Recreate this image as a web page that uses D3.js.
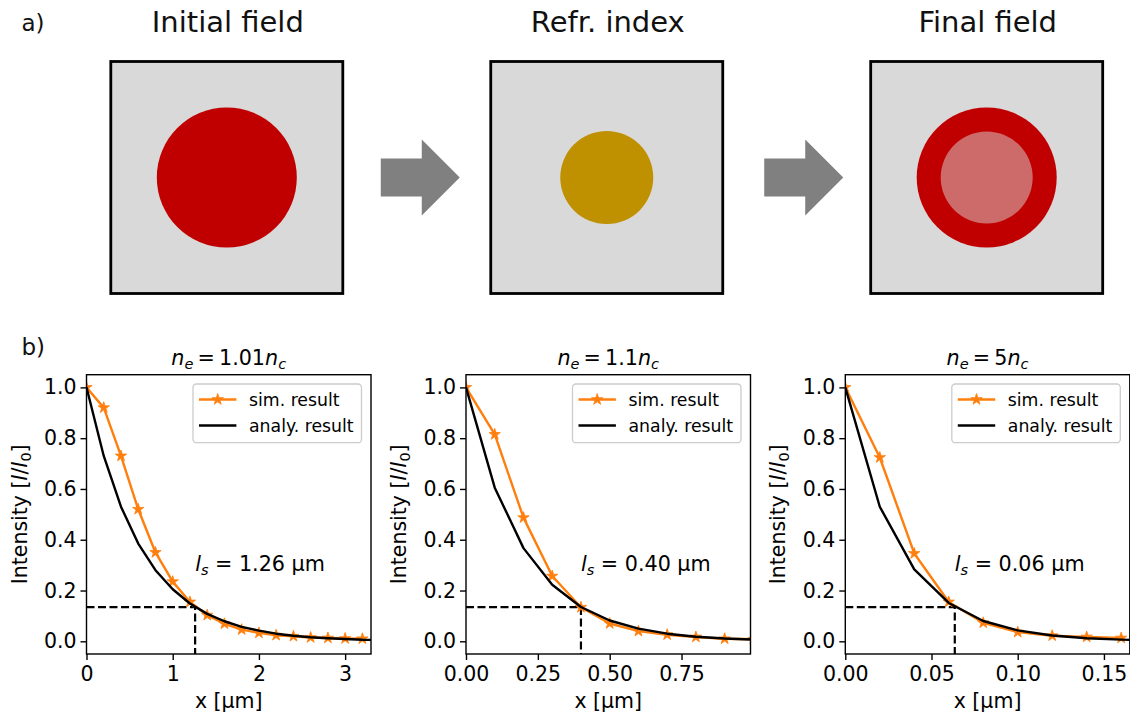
<!DOCTYPE html>
<html>
<head>
<meta charset="utf-8">
<script src="https://cdn.jsdelivr.net/npm/d3@7/dist/d3.min.js"></script>
<style>
  html, body { margin: 0; padding: 0; background: #fff; }
  svg { display: block; }
</style>
</head>
<body>
<svg id="fig" width="1130" height="716"></svg>
<script>
// ---- a) schematic: titles and disc radii (px) ----
const stageTitles = ["Initial field", "Refr. index", "Final field"];
const stageRadius = [70, 46.5, 70];
const stageInnerRadius = [0, 0, 46];
const stageColors = ["#c00000", "#bf9000", "#c00000"];
const innerColor = "#cd6b6b";

// ---- b) penetration profiles ----
const densityFactors = ["1.01", "1.1", "5"];       // n_e = k n_c
const skinDepths = [1.26, 0.40, 0.0635];           // l_s in µm
const cutoffLevel = 0.135;                          // intensity at x = l_s
const xMax = [3.3, 0.99, 0.165];
const xTicks = [[0, 1, 2, 3], [0, 0.25, 0.5, 0.75], [0, 0.05, 0.10, 0.15]];
const xTickDigits = [0, 2, 2];
const yTicks = [0, 0.2, 0.4, 0.6, 0.8, 1.0];

const simX1 = [0, 0.2, 0.4, 0.6, 0.8, 1.0, 1.2, 1.4, 1.6, 1.8, 2.0, 2.2, 2.4, 2.6, 2.8, 3.0, 3.2];
const simY1 = [1.0, 0.92, 0.73, 0.52, 0.35, 0.235, 0.155, 0.103, 0.069, 0.046, 0.033, 0.024, 0.02, 0.015, 0.013, 0.011, 0.01];
const anaX1 = [0, 0.2, 0.4, 0.6, 0.8, 1.0, 1.2, 1.4, 1.6, 1.8, 2.0, 2.2, 2.4, 2.6, 2.8, 3.0, 3.2, 3.4];
const anaY1 = [1.0, 0.73, 0.53, 0.385, 0.28, 0.205, 0.149, 0.108, 0.079, 0.057, 0.042, 0.030, 0.022, 0.016, 0.012, 0.009, 0.006, 0.005];

const simX2 = [0, 0.1, 0.2, 0.3, 0.4, 0.5, 0.6, 0.7, 0.8, 0.9, 1.0];
const simY2 = [1.0, 0.815, 0.487, 0.257, 0.134, 0.07, 0.04, 0.026, 0.017, 0.01, 0.008];
const anaX2 = [0, 0.1, 0.2, 0.3, 0.4, 0.5, 0.6, 0.7, 0.8, 0.9, 1.0];
const anaY2 = [1.0, 0.605, 0.367, 0.223, 0.135, 0.082, 0.05, 0.03, 0.018, 0.011, 0.007];

const simX3 = [0, 0.02, 0.04, 0.06, 0.08, 0.10, 0.12, 0.14, 0.16];
const simY3 = [1.0, 0.724, 0.346, 0.155, 0.073, 0.036, 0.022, 0.017, 0.013];
const anaX3 = [0, 0.02, 0.04, 0.06, 0.08, 0.10, 0.12, 0.14, 0.16, 0.18];
const anaY3 = [1.0, 0.53, 0.283, 0.151, 0.08, 0.043, 0.023, 0.012, 0.0065, 0.0035];

const legendLabels = ["sim. result", "analy. result"];

const simSeries = [[simX1, simY1], [simX2, simY2], [simX3, simY3]];
const anaSeries = [[anaX1, anaY1], [anaX2, anaY2], [anaX3, anaY3]];

const ORANGE = "#ff7f0e";
const MPL = "DejaVu Sans, Liberation Sans, sans-serif";

const svg = d3.select("#fig");

// ================= a) =================
const stageX = d3.scalePoint().domain(stageTitles).range([226.8, 986.7]);
const boxSize = 232;
const boxCy = 177.5;

svg.append("text").attr("x", 21.5).attr("y", 30.5)
  .attr("font-family", MPL).attr("font-size", 23).attr("fill", "#111").text("a)");

stageTitles.forEach((t, i) => {
  const cx = stageX(t);
  svg.append("text").attr("x", cx + 1).attr("y", 31.7)
    .attr("text-anchor", "middle").attr("font-family", MPL)
    .attr("font-size", 29).attr("fill", "#111").text(t);
  svg.append("rect")
    .attr("x", cx - boxSize / 2).attr("y", boxCy - boxSize / 2)
    .attr("width", boxSize).attr("height", boxSize)
    .attr("fill", "#d9d9d9").attr("stroke", "#000").attr("stroke-width", 2.8);
  svg.append("circle").attr("cx", cx).attr("cy", boxCy)
    .attr("r", stageRadius[i]).attr("fill", stageColors[i]);
  if (stageInnerRadius[i] > 0) {
    svg.append("circle").attr("cx", cx).attr("cy", boxCy)
      .attr("r", stageInnerRadius[i]).attr("fill", innerColor);
  }
});

// block arrows between the stages
[3.5, 7].forEach((shift, i) => {
  const mid = (stageX(stageTitles[i]) + stageX(stageTitles[i + 1])) / 2 + shift;
  const x0 = mid - 39.5, xs = mid + 1.5, x1 = mid + 39.5;
  const y = boxCy;
  const pts = [[x0, y - 19], [xs, y - 19], [xs, y - 38], [x1, y], [xs, y + 38], [xs, y + 19], [x0, y + 19]];
  svg.append("path").attr("d", d3.line()(pts) + "Z").attr("fill", "#808080");
});

// ================= b) =================
svg.append("text").attr("x", 21.5).attr("y", 355.3)
  .attr("font-family", MPL).attr("font-size", 23).attr("fill", "#111").text("b)");

const axTop = 374.7, axBottom = 654, axW = 284.5;
const axLefts = [86.5, 466, 845.3];
const y = d3.scaleLinear().domain([-0.05, 1.05]).range([axBottom, axTop]);
const FS = 20.5;        // ticks, labels, titles
const LEG_FS = 17.3;    // legend entries
const star = d3.symbol().type(d3.symbolStar).size(40);

axLefts.forEach((left, i) => {
  const x = d3.scaleLinear().domain([0, xMax[i]]).range([left, left + axW]);
  const g = svg.append("g");
  const clipId = "clip" + i;
  svg.append("clipPath").attr("id", clipId).append("rect")
    .attr("x", left).attr("y", axTop).attr("width", axW).attr("height", axBottom - axTop);

  // title  n_e = k n_c
  const title = g.append("text").attr("x", left + axW / 2).attr("y", 365)
    .attr("text-anchor", "middle").attr("font-family", MPL).attr("font-size", 20.7);
  title.append("tspan").attr("font-style", "italic").text("n");
  title.append("tspan").attr("font-style", "italic").attr("font-size", 14.5).attr("dy", 4).text("e");
  title.append("tspan").attr("dy", -4).text("\u2009=\u2009" + densityFactors[i]);
  title.append("tspan").attr("font-style", "italic").text("n");
  title.append("tspan").attr("font-style", "italic").attr("font-size", 14.5).attr("dy", 4).text("c");

  const plot = g.append("g").attr("clip-path", `url(#${clipId})`);

  // cut-off guides at l_s
  const ls = skinDepths[i];
  plot.append("path")
    .attr("d", d3.line()([[x(0), y(cutoffLevel)], [x(ls), y(cutoffLevel)], [x(ls), y(-0.05)]]))
    .attr("fill", "none").attr("stroke", "#000").attr("stroke-width", 2.2)
    .attr("stroke-dasharray", "8,3.5");

  const line = d3.line().x(d => x(d[0])).y(d => y(d[1]));
  const sim = d3.zip(simSeries[i][0], simSeries[i][1]);
  const ana = d3.zip(anaSeries[i][0], anaSeries[i][1]);

  plot.append("path").attr("d", line(sim)).attr("fill", "none")
    .attr("stroke", ORANGE).attr("stroke-width", 2.4).attr("stroke-linejoin", "round");
  plot.selectAll("path.mk").data(sim).join("path").attr("class", "mk")
    .attr("d", star).attr("transform", d => `translate(${x(d[0])},${y(d[1])})`)
    .attr("fill", ORANGE).attr("stroke", ORANGE).attr("stroke-width", 0.8);
  plot.append("path").attr("d", line(ana)).attr("fill", "none")
    .attr("stroke", "#000").attr("stroke-width", 2.4).attr("stroke-linejoin", "round");

  // l_s annotation
  const ann = g.append("text").attr("x", x(ls)).attr("y", y(0.277))
    .attr("font-family", MPL).attr("font-size", 20.7);
  ann.append("tspan").attr("font-style", "italic").text("l");
  ann.append("tspan").attr("font-style", "italic").attr("font-size", 14.5).attr("dy", 4).text("s");
  ann.append("tspan").attr("dy", -4).text(" = " + ls.toFixed(2) + " \u00b5m");

  // axes
  const xAxis = d3.axisBottom(x).tickValues(xTicks[i]).tickSize(6).tickPadding(6)
    .tickFormat(d3.format("." + xTickDigits[i] + "f"));
  const yAxis = d3.axisLeft(y).tickValues(yTicks).tickSize(6).tickPadding(4)
    .tickFormat(d3.format(".1f"));
  const gx = g.append("g").attr("transform", `translate(0,${axBottom})`).call(xAxis);
  const gy = g.append("g").attr("transform", `translate(${left},0)`).call(yAxis);
  [gx, gy].forEach(a => {
    a.select(".domain").remove();
    a.selectAll(".tick line").attr("stroke", "#000").attr("stroke-width", 1.4);
    a.selectAll(".tick text").attr("font-family", MPL).attr("font-size", FS).attr("fill", "#000");
  });

  g.append("rect").attr("x", left).attr("y", axTop).attr("width", axW).attr("height", axBottom - axTop)
    .attr("fill", "none").attr("stroke", "#000").attr("stroke-width", 1.4);

  // axis labels
  g.append("text").attr("x", left + axW / 2).attr("y", 708).attr("text-anchor", "middle")
    .attr("font-family", MPL).attr("font-size", FS).text("x [\u00b5m]");
  const yl = g.append("text")
    .attr("transform", `translate(${left - 60},${(axTop + axBottom) / 2}) rotate(-90)`)
    .attr("text-anchor", "middle").attr("font-family", MPL).attr("font-size", FS);
  yl.append("tspan").text("Intensity [");
  yl.append("tspan").attr("font-style", "italic").text("I");
  yl.append("tspan").text("/");
  yl.append("tspan").attr("font-style", "italic").text("I");
  yl.append("tspan").attr("font-size", 14.4).attr("dy", 4).text("0");
  yl.append("tspan").attr("dy", -4).text("]");

  // legend
  const lw = 168.5, lh = 58.7;
  const lx = left + axW - 9.5 - lw, ly = axTop + 9.3;
  const lg = g.append("g");
  lg.append("rect").attr("x", lx).attr("y", ly).attr("width", lw).attr("height", lh)
    .attr("rx", 3.5).attr("fill", "#fff").attr("fill-opacity", 0.8)
    .attr("stroke", "#cccccc").attr("stroke-width", 1.3);
  legendLabels.forEach((lab, k) => {
    const cy = ly + 15.5 + k * 26;
    lg.append("line").attr("x1", lx + 6).attr("x2", lx + 43.4).attr("y1", cy).attr("y2", cy)
      .attr("stroke", k === 0 ? ORANGE : "#000").attr("stroke-width", 2.4);
    if (k === 0) {
      lg.append("path").attr("d", star).attr("transform", `translate(${lx + 24.7},${cy})`)
        .attr("fill", ORANGE).attr("stroke", ORANGE).attr("stroke-width", 0.8);
    }
    lg.append("text").attr("x", lx + 56).attr("y", cy + 6).attr("font-family", MPL)
      .attr("font-size", LEG_FS).text(lab);
  });
});
</script>
</body>
</html>
